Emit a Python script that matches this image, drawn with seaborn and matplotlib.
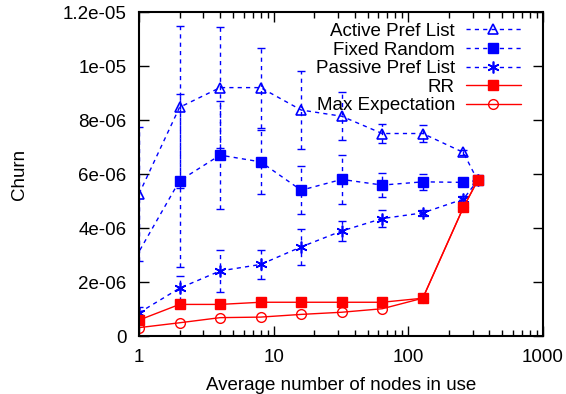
import numpy as np
import matplotlib
matplotlib.use("Agg")
import matplotlib.pyplot as plt
import seaborn as sns

# values (churn in units of 1e-6)
nodes = [1, 2, 4, 8, 16, 32, 64, 128, 256, 327]
fixed_nodes = [0.5, 2, 4, 8, 16, 32, 64, 128, 256, 327]

active = [5.26, 8.47, 9.2, 9.2, 8.37, 8.14, 7.5, 7.5, 6.8, 5.76]
active_err = [2.48, 3.0, 2.23, 1.48, 1.45, 0.88, 0.35, 0.3, 0.1, 0.0]

fixed = [0.5, 5.75, 6.7, 6.45, 5.4, 5.8, 5.59, 5.71, 5.69, 5.76]
fixed_err = [0.0, 3.2, 2.0, 1.19, 0.88, 0.9, 0.43, 0.3, 0.0, 0.0]

passive = [0.86, 1.77, 2.41, 2.65, 3.3, 3.89, 4.35, 4.56, 5.07, 5.76]
passive_err = [0.2, 0.47, 0.78, 0.53, 0.68, 0.38, 0.3, 0.1, 0.1, 0.0]

rr = [0.59, 1.17, 1.17, 1.25, 1.25, 1.25, 1.25, 1.4, 4.76, 5.76]
max_exp = [0.31, 0.49, 0.68, 0.7, 0.8, 0.88, 1.01, 1.4, 4.76, 5.76]

y_ticks = [0, 2e-6, 4e-6, 6e-6, 8e-6, 1e-5, 1.2e-5]
y_tick_labels = ["0", "2e-06", "4e-06", "6e-06", "8e-06", "1e-05", "1.2e-05"]
x_ticks = [1, 10, 100, 1000]
x_tick_labels = ["1", "10", "100", "1000"]

sns.set_style("ticks")
plt.rcParams["font.family"] = ["Liberation Sans", "DejaVu Sans"]
fs = 13.5
plt.rcParams["font.size"] = fs
plt.rcParams["text.color"] = "black"
plt.rcParams["axes.labelcolor"] = "black"

fig = plt.figure(figsize=(5.66, 3.94), dpi=100)
ax = fig.add_axes([0.2456, 0.1472, 0.7138, 0.8223])

sc = 1e-6
blue = "#0000ff"
red = "#ff0000"
dash = (0, (3, 3))

# error bars first (dashed, drawn under the markers)
for xs, ys, es in [(nodes, active, active_err), (fixed_nodes, fixed, fixed_err), (nodes, passive, passive_err)]:
    eb = ax.errorbar(xs, np.array(ys) * sc, yerr=np.array(es) * sc, fmt="none",
                     ecolor=blue, elinewidth=1, capsize=3, capthick=1)
    eb[2][0].set_linestyle(dash)

sns.lineplot(x=nodes, y=np.array(active) * sc, ax=ax, color=blue, linestyle=dash, lw=1,
             marker="^", markersize=7, mfc="none", mec=blue, mew=1.2, label="Active Pref List")
sns.lineplot(x=fixed_nodes, y=np.array(fixed) * sc, ax=ax, color=blue, linestyle=dash, lw=1,
             marker="s", markersize=6.5, mfc=blue, mec=blue, mew=1, label="Fixed Random")
sns.lineplot(x=nodes, y=np.array(passive) * sc, ax=ax, color=blue, linestyle=dash, lw=1,
             marker=(6, 2, 0), markersize=8.5, mfc=blue, mec=blue, mew=1.2, label="Passive Pref List")
sns.lineplot(x=nodes, y=np.array(rr) * sc, ax=ax, color=red, lw=1,
             marker="s", markersize=6.5, mfc=red, mec=red, mew=1, label="RR")
sns.lineplot(x=nodes, y=np.array(max_exp) * sc, ax=ax, color=red, lw=1,
             marker="o", markersize=7, mfc="none", mec=red, mew=1, label="Max Expectation")

ax.set_xscale("log")
ax.set_xlim(1, 1000)
ax.set_ylim(0, 1.2e-5)
ax.set_yticks(y_ticks)
ax.set_yticklabels(y_tick_labels)
ax.set_xticks(x_ticks)
ax.set_xticklabels(x_tick_labels)
ax.tick_params(which="both", direction="in", top=True, right=True, colors="black", labelsize=fs)
ax.tick_params(which="major", length=7, width=1, pad=9)
ax.tick_params(which="minor", length=4, width=1)
for s in ax.spines.values():
    s.set_visible(True)
    s.set_linewidth(1.5)
    s.set_color("black")

ax.set_xlabel("Average number of nodes in use", fontsize=fs, labelpad=8)
ax.set_ylabel("Churn", fontsize=fs, labelpad=25)

leg = ax.legend(loc="upper right", bbox_to_anchor=(0.963, 0.99), frameon=False,
                markerfirst=False, handlelength=2.9, handletextpad=0.6,
                labelspacing=0.08, fontsize=fs, borderaxespad=0)
for t in leg.get_texts():
    t.set_color("black")

fig.savefig("out.png", dpi=100)
